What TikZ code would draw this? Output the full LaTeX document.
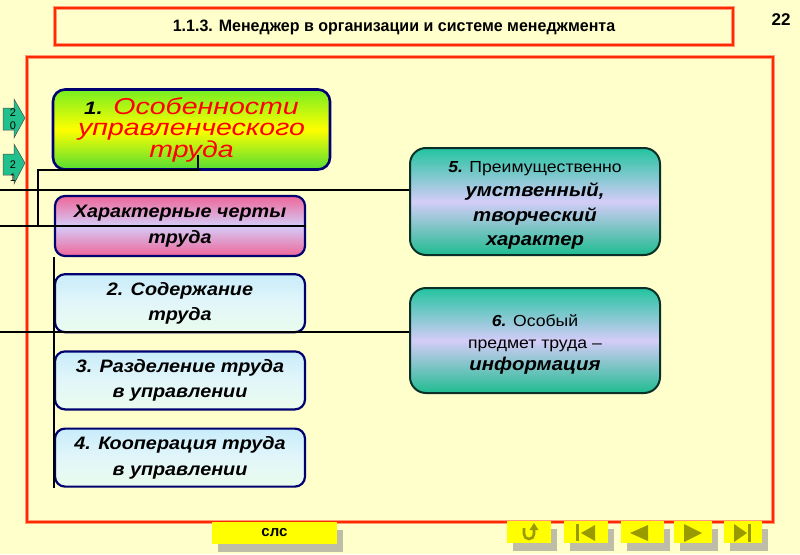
\documentclass[tikz,border=0pt]{standalone}
\usepackage{fontspec}
\setmainfont{Liberation Sans}
\newfontfamily\leadfont[FakeStretch=1.24]{Liberation Sans}
\newfontfamily\widesans[FakeStretch=1.1]{Liberation Sans}
\usepackage{xcolor}
\usetikzlibrary{positioning, shadows}

\definecolor{slidebg}{HTML}{FFFFCC}
\definecolor{framered}{HTML}{FF2A00}
\definecolor{framelight}{HTML}{FF9977}
\definecolor{boxnavy}{HTML}{000070}
\definecolor{limetop}{HTML}{77EE22}
\definecolor{limebot}{HTML}{55DD33}
\definecolor{pinkrose}{HTML}{EE6699}
\definecolor{lavender}{HTML}{D4CCF8}
\definecolor{icetop}{HTML}{C8ECFA}
\definecolor{icemid}{HTML}{E2F6FA}
\definecolor{icebot}{HTML}{EAFCEC}
\definecolor{tealtop}{HTML}{22C4A0}
\definecolor{tealbot}{HTML}{1FBC90}
\definecolor{tealedge}{HTML}{0A3028}
\definecolor{tabteal}{HTML}{22C08C}
\definecolor{navyellow}{HTML}{FFFF00}
\definecolor{navolive}{HTML}{999900}
\definecolor{shadowgrey}{HTML}{BDBDA8}

\newcommand{\keyword}[1]{{\widesans\fontsize{18.5}{24.5}\selectfont\bfseries\itshape #1}}

\begin{document}
\begin{tikzpicture}[x=1pt, y=-1pt,
  framebox/.style={draw=framelight, line width=4.5pt},
  frameline/.style={draw=framered, line width=1.8pt},
  leadbox/.style={rectangle, rounded corners=12pt, draw=boxnavy, line width=2.6pt,
    top color=limetop, bottom color=limebot, middle color=navyellow,
    minimum width=277pt, minimum height=80pt, align=center, inner sep=0pt,
    font=\leadfont\fontsize{23}{21.5}\selectfont\itshape, text=red},
  featbox/.style={rectangle, rounded corners=10pt, draw=boxnavy, line width=2.2pt,
    minimum width=250pt, minimum height=58pt, align=center, inner sep=0pt,
    font=\widesans\fontsize{18}{25.5}\selectfont\bfseries\itshape},
  pinkbox/.style={featbox, top color=pinkrose, bottom color=pinkrose, middle color=lavender,
    minimum height=60pt},
  icebox/.style={featbox, top color=icetop, bottom color=icebot, middle color=icemid},
  tealbox/.style={rectangle, rounded corners=16pt, draw=tealedge, line width=2pt,
    top color=tealtop, bottom color=tealbot, middle color=lavender,
    minimum width=250pt, align=center, inner sep=0pt,
    font=\widesans\fontsize{16}{24.5}\selectfont},
  link/.style={draw=black, line width=1.6pt},
  tab/.style={fill=tabteal, draw=black!70, line width=0.5pt},
  tablabel/.style={align=center, inner sep=0pt, font=\fontsize{11}{13}\selectfont},
  navbtn/.style={rectangle, fill=navyellow, inner sep=0pt, minimum height=22pt,
    drop shadow={shadow xshift=6pt, shadow yshift=-8pt, fill=shadowgrey, opacity=1}},
  navglyph/.style={fill=navolive}
]
\useasboundingbox[fill=slidebg] (0,0) rectangle (800,554);

% Frames
\draw[framebox] (55,8) rectangle (733,45);
\draw[frameline] (55,8) rectangle (733,45);
\draw[framebox] (27,57) rectangle (773,522);
\draw[frameline] (27,57) rectangle (773,522);
\node[font=\fontsize{16.5}{18}\selectfont\bfseries] (title) at (394,27)
  {\scalebox{0.97}[1]{1.1.3. Менеджер в организации и системе менеджмента}};
\node[font=\fontsize{17}{20}\selectfont\bfseries] (pagenum) at (781,20) {22};

% Side tabs
\draw[tab] (3,108) -- (14,108) -- (14,99) -- (25,118) -- (14,138) -- (14,130) -- (3,130) -- cycle;
\draw[tab] (3,154) -- (14,154) -- (14,144) -- (25,163) -- (14,184) -- (14,175) -- (3,175) -- cycle;
\node[tablabel] (tab20) at (13,119) {2\\0};
\node[tablabel] (tab21) at (13,171) {2\\1};

% Nodes
\node[leadbox] (lead) at (191.5,129.5)
  {{\fontsize{18}{21}\selectfont\bfseries\color{black}1.} Особенности\\управленческого\\труда};
\node[pinkbox] (feat) at (180,226) {Характерные черты\\труда};
\node[icebox, below=16pt of feat] (cont) {2. Содержание\\труда};
\node[icebox, below=17pt of cont] (divi) {3. Разделение труда\\в управлении};
\node[icebox, below=17pt of divi] (coop) {4. Кооперация труда\\в управлении};
\node[tealbox, minimum height=107pt] (mind) at (535,201.5)
  {\rule{0pt}{19pt}\textbf{\textit{5.}} Преимущественно\\
   \keyword{умственный,}\\\keyword{творческий}\\\keyword{характер}};
\node[tealbox, minimum height=105pt, font=\widesans\fontsize{16}{22}\selectfont] (info) at (535,340.5)
  {\rule{0pt}{19pt}\textbf{\textit{6.}} Особый\\предмет труда –\\\keyword{информация}};

% Lines
\coordinate (leadtail) at (198,155);
\coordinate (leadknee) at (38,170);
\coordinate (mindin) at (0,190);
\coordinate (featin) at (0,226);
\coordinate (infoin) at (0,332);
\draw[link] (leadtail) |- (leadknee) -- (leadknee |- feat);
\draw[link] (mindin) -- (mindin -| mind.west);
\draw[link] (featin) -- (feat.east);
\draw[link] (infoin) -- (infoin -| info.west);
\draw[link] (feat.south west) -- (feat.south west |- coop.south);

% Bottom buttons
\node[navbtn, minimum width=125pt, font=\fontsize{15}{18}\selectfont\bfseries] (sls) at (274.5,532.5) {слс};
\node[navbtn, minimum width=44pt] (nav1) at (529,532) {};
\node[navbtn, minimum width=44pt] (nav2) at (586,532) {};
\node[navbtn, minimum width=43pt] (nav3) at (642.5,532) {};
\node[navbtn, minimum width=38pt] (nav4) at (693,532) {};
\node[navbtn, minimum width=38pt] (nav5) at (743,532) {};
\draw[navolive, line width=2.6pt] (nav1.center) ++(-5,-4) -- ++(0,6) arc[start angle=180, end angle=0, radius=5] -- ++(0,-4);
\fill[navglyph] (nav1.center) ++(0.5,-2) -- ++(9,0) -- ++(-4.5,-7) -- cycle;
\fill[navglyph] (nav2.center) ++(-10,-8) rectangle ++(3,17);
\fill[navglyph] (nav2.center) ++(-5,1) -- ++(14,-8) -- ++(0,16) -- cycle;
\fill[navglyph] (nav3.center) ++(-12.5,1) -- ++(18,-8) -- ++(0,16) -- cycle;
\fill[navglyph] (nav4.center) ++(-9,-8) -- ++(18,9) -- ++(-18,9) -- cycle;
\fill[navglyph] (nav5.center) ++(-9,-8) -- ++(13,9) -- ++(-13,9) -- cycle;
\fill[navglyph] (nav5.center) ++(5,-8) rectangle ++(3,18);

\end{tikzpicture}
\end{document}
